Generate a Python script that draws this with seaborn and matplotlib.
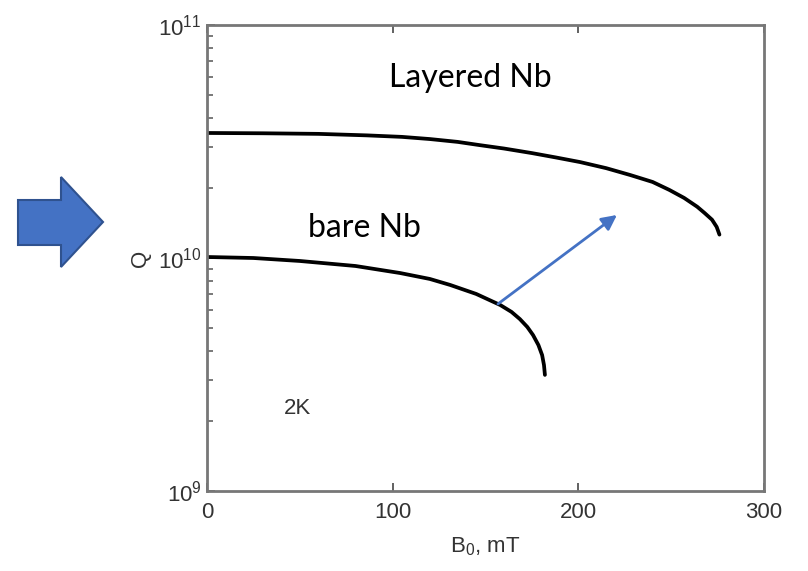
import numpy as np
import pandas as pd
import seaborn as sns
import matplotlib
matplotlib.use("Agg")
import matplotlib.pyplot as plt
from matplotlib.patches import Polygon
from matplotlib.ticker import LogLocator, NullFormatter

# Data
layered_B = [0, 30, 60, 86, 105, 120, 135, 147, 160, 175, 188, 201, 215, 228, 240, 249, 257,
             264, 268, 272, 274.5, 276]
layered_Q = [3.44e10, 3.43e10, 3.41e10, 3.36e10, 3.31e10, 3.24e10, 3.15e10, 3.05e10, 2.95e10,
             2.82e10, 2.70e10, 2.58e10, 2.43e10, 2.27e10, 2.12e10, 1.96e10, 1.81e10,
             1.66e10, 1.56e10, 1.46e10, 1.36e10, 1.26e10]
bare_B = [0, 25, 50, 80, 104, 120, 131, 145, 158, 164, 168.5, 172.5, 175.6, 178.5, 180.5, 181.5, 182]
bare_Q = [1.01e10, 1.00e10, 9.71e9, 9.24e9, 8.62e9, 8.13e9, 7.66e9, 7.01e9, 6.28e9, 5.87e9,
          5.47e9, 5.06e9, 4.67e9, 4.23e9, 3.83e9, 3.47e9, 3.15e9]
arrow_start = (156.7, 6.35e9)
arrow_end = (220.8, 1.53e10)
x_ticks = [0, 100, 200, 300]
y_ticks = [1e9, 1e10, 1e11]
y_tick_labels = ["$10^{9}$", "$10^{10}$", "$10^{11}$"]
labels = {"Layered Nb": (141.6, 5.93e10), "bare Nb": (85, 1.35e10)}
temp_label = ("2K", 49, 2.27e9)

sns.set_style("white")
plt.rcParams["font.family"] = ["Liberation Sans", "DejaVu Sans"]
plt.rcParams["mathtext.fontset"] = "custom"
plt.rcParams["mathtext.rm"] = "Liberation Sans"
plt.rcParams["mathtext.it"] = "Liberation Sans"

df = pd.concat([
    pd.DataFrame({"B": layered_B, "Q": layered_Q, "s": "Layered Nb"}),
    pd.DataFrame({"B": bare_B, "Q": bare_Q, "s": "bare Nb"}),
])

fig = plt.figure(figsize=(8.08, 5.71), dpi=100)
ax = fig.add_axes([207/808, 1-491/571, (764-207)/808, (491-25)/571])

sns.lineplot(data=df, x="B", y="Q", units="s", estimator=None, color="black",
             linewidth=2.7, ax=ax, sort=False, solid_capstyle="round",
             solid_joinstyle="round")
ax.set_yscale("log")
ax.set_xlim(0, 300)
ax.set_ylim(1e9, 1e11)
ax.set_xticks(x_ticks)
ax.set_xticklabels([str(t) for t in x_ticks])
ax.set_yticks(y_ticks)
ax.set_yticklabels(y_tick_labels)
ax.yaxis.set_minor_locator(LogLocator(base=10, subs=np.arange(2, 10), numticks=20))
ax.yaxis.set_minor_formatter(NullFormatter())
ax.tick_params(axis="both", which="both", direction="in", top=True, right=False,
               left=True, bottom=True, colors="#555555", labelcolor="#333333")
ax.tick_params(axis="x", labelsize=16, pad=8)
ax.tick_params(axis="y", labelsize=16, pad=4)
ax.tick_params(which="major", length=6, width=1.3)
ax.tick_params(which="minor", length=4, width=1.1)
for sp in ax.spines.values():
    sp.set_color("#777777")
    sp.set_linewidth(2)
ax.set_xlabel("B$_{0}$, mT", fontsize=16, color="#333333", labelpad=9)
ax.set_ylabel("Q", fontsize=16, color="#333333", labelpad=5)

ax.annotate("", xy=arrow_end, xytext=arrow_start,
            arrowprops=dict(arrowstyle="-|>,head_length=0.9,head_width=0.45",
                            color="#4472C4", lw=2, shrinkA=0, shrinkB=0))

for txt, (x, y) in labels.items():
    ax.text(x, y, txt, ha="center", va="center", fontsize=23,
            family=["Lato", "DejaVu Sans"], color="black")
ax.text(temp_label[1], temp_label[2], temp_label[0], ha="center", va="center",
        fontsize=16, color="#333333")

# Big block arrow on the left (decoration)
pts = np.array([[18, 200], [61, 200], [61, 177], [103, 222], [61, 267], [61, 245], [18, 245]])
pts_fig = np.column_stack([pts[:, 0] / 808, 1 - pts[:, 1] / 571])
fig.patches.append(Polygon(pts_fig, closed=True, transform=fig.transFigure,
                           facecolor="#4472C4", edgecolor="#2F528F", linewidth=1.5))

fig.savefig("out.png", dpi=100)
